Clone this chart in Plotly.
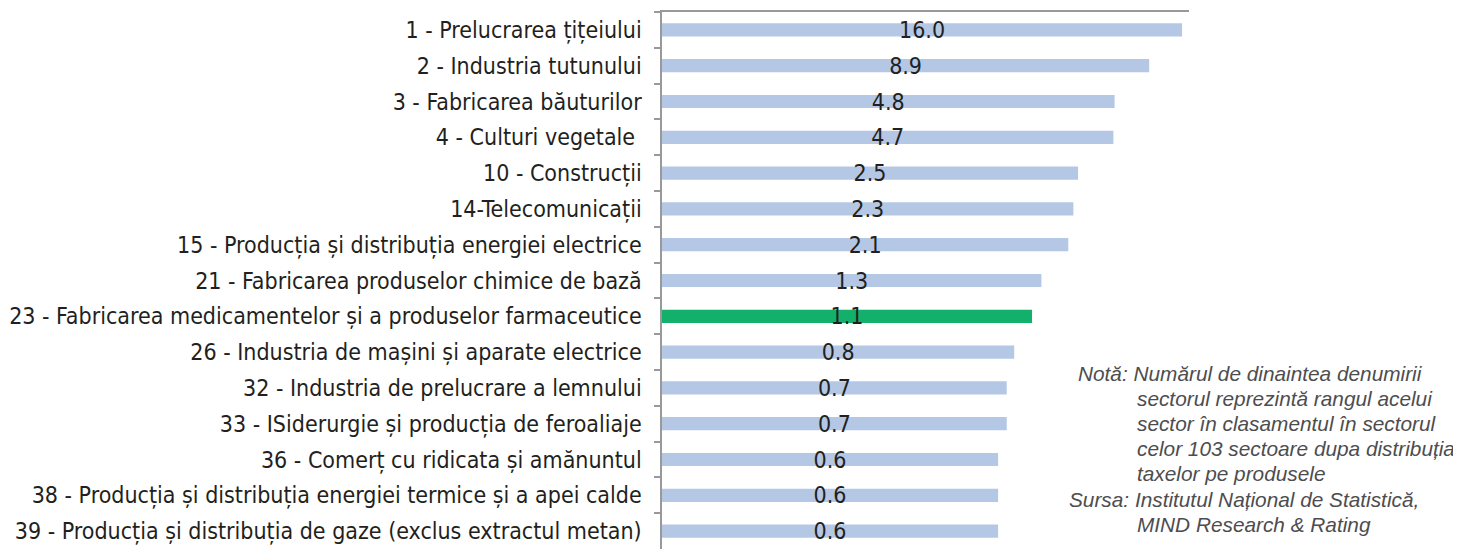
import plotly.graph_objects as go

categories = [
    "1 - Prelucrarea țițeiului",
    "2 - Industria tutunului",
    "3 - Fabricarea băuturilor",
    "4 - Culturi vegetale ",
    "10 - Construcții",
    "14-Telecomunicații",
    "15 - Producția și distribuția energiei electrice",
    "21 - Fabricarea produselor chimice de bază",
    "23 - Fabricarea medicamentelor și a produselor farmaceutice",
    "26 - Industria de mașini și aparate electrice",
    "32 - Industria de prelucrare a lemnului",
    "33 - ISiderurgie și producția de feroaliaje",
    "36 - Comerț cu ridicata și amănuntul",
    "38 - Producția și distribuția energiei termice și a apei calde",
    "39 - Producția și distribuția de gaze (exclus extractul metan)",
]
values = [16.0, 8.9, 4.8, 4.7, 2.5, 2.3, 2.1, 1.3, 1.1, 0.8, 0.7, 0.7, 0.6, 0.6, 0.6]
highlight = "23 - Fabricarea medicamentelor și a produselor farmaceutice"

note_lines = [
    ("Notă: Numărul de dinaintea denumirii", "head"),
    ("sectorul reprezintă rangul acelui", "indent"),
    ("sector în clasamentul în sectorul", "indent"),
    ("celor 103 sectoare dupa distribuția", "indent"),
    ("taxelor pe produsele", "indent"),
    ("Sursa: Institutul Național de Statistică,", "head2"),
    ("MIND Research & Rating", "indent"),
]

BLUE = "#b4c8e5"
GREEN = "#13b06b"
colors = [GREEN if c == highlight else BLUE for c in categories]

FONT_C = "DejaVu Sans Condensed, Liberation Sans Narrow, Arial Narrow, sans-serif"

# page body has 8px margin -> figure sized/positioned to compensate
OFF = 8
W, H = 1461 - OFF, 549 - OFF
L, R, T, B = 662 - OFF, 1461 - 1189, 12 - OFF, 0

fig = go.Figure(go.Bar(
    x=values, y=categories, orientation="h",
    marker=dict(color=colors, line=dict(width=0)),
    width=0.37,
    text=[f"{v:.1f}" for v in values],
    textposition="inside", insidetextanchor="middle",
    textfont=dict(family=FONT_C, size=23, color="#231f20"),
    constraintext="none",
    hoverinfo="skip",
))

fig.update_layout(
    width=W, height=H,
    margin=dict(l=L, r=R, t=T, b=B, autoexpand=False),
    plot_bgcolor="white", paper_bgcolor="white",
    showlegend=False,
    uniformtext=dict(mode=False),
)
fig.update_xaxes(
    type="log", range=[-2.827, 1.258], side="top",
    showgrid=False, zeroline=False, showticklabels=False, ticks="",
    showline=True, linecolor="#999999", linewidth=1.5,
)
fig.update_yaxes(
    autorange="reversed", showgrid=False,
    showline=True, linecolor="#999999", linewidth=1.5,
    ticks="outside", tickson="boundaries", ticklen=6, tickcolor="#999999", tickwidth=1.5,
    ticklabelstandoff=14,
    tickfont=dict(family=FONT_C, size=23, color="#231f20"),
)

# note annotations (screen coords minus body margin)
xpos = {"head": 1076 - OFF, "head2": 1067 - OFF, "indent": 1135 - OFF}
y_start, line_h = 373 - OFF, 25.2
for i, (txt, kind) in enumerate(note_lines):
    xp = xpos[kind]
    yp = y_start + i * line_h
    fig.add_annotation(
        text=txt, xref="paper", yref="paper",
        x=(xp - L) / (W - L - R), y=1 - (yp - T) / (H - T - B),
        xanchor="left", yanchor="middle", showarrow=False,
        font=dict(family="Liberation Sans, Arial, sans-serif", size=20.8, color="#4d4d4f", style="italic"),
    )

fig.write_html("out.html")
